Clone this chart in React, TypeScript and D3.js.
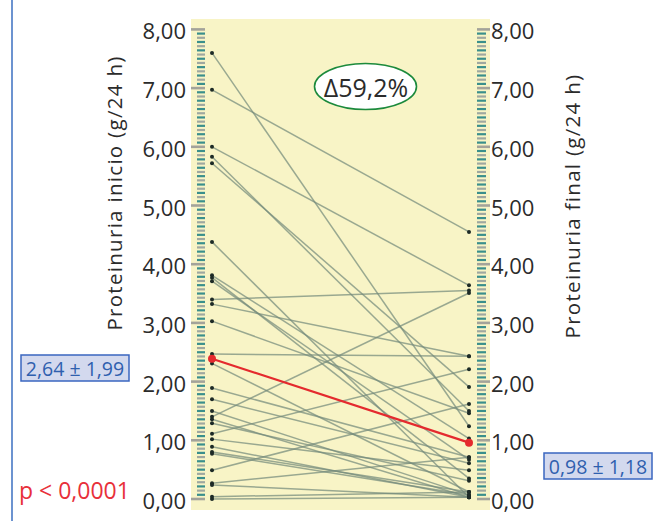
import * as d3 from "d3";

// baseline / final proteinuria per patient (g/24 h)
const inicio = [7.6, 6.97, 6.0, 5.83, 5.72, 4.38, 3.81, 3.77, 3.71, 3.4, 3.32, 3.03, 2.47, 2.31, 1.89, 1.7, 1.5, 1.4, 1.36, 1.29, 1.11, 1.02, 0.89, 0.8, 0.77, 0.49, 0.27, 0.24, 0.04, 0.0];
const final = [1.24, 4.55, 3.64, 1.5, 1.91, 0.03, 1.03, 0.35, 0.67, 3.55, 2.43, 1.46, 2.43, 0.12, 0.71, 0.61, 0.07, 3.51, 0.03, 0.31, 2.21, 0.49, 0.03, 0.12, 0.07, 1.62, 0.71, 0.03, 0.12, 0.03];
const meanLine = [2.39, 0.96];
const tickLabels = ["0,00", "1,00", "2,00", "3,00", "4,00", "5,00", "6,00", "7,00", "8,00"];
const leftStat = "2,64 ± 1,99";
const rightStat = "0,98 ± 1,18";
const pText = "p < 0,0001";
const delta = "Δ59,2%";

const W = 653;
const H = 521;
const font = "'Open Sans', 'Noto Sans', sans-serif";

export default function App() {
  const y = d3.scaleLinear().domain([0, 8]).range([499, 29.4]);
  const xl = 212;
  const xr = 469;
  const minor = d3.range(0, 8.0001, 1 / 14);
  const majors = tickLabels.map((_, i) => i);

  const tickMarks = (side: "l" | "r") =>
    minor.map((v, i) => {
      const isMajor = Math.abs(v - Math.round(v)) < 1e-6;
      const x0 = side === "l" ? (isMajor ? 191 : 197) : 477;
      const x1 = side === "l" ? 205 : isMajor ? 490 : 486;
      return (
        <line
          key={side + i}
          x1={x0}
          x2={x1}
          y1={y(v)}
          y2={y(v)}
          stroke={isMajor ? "#a3a39a" : i % 2 ? "#3a8f8c" : "#9fa8a0"}
          strokeWidth={isMajor ? 2.6 : 2.2}
        />
      );
    });

  return (
    <svg width={W} height={H} style={{ position: "absolute", left: 0, top: 0 }} fontFamily={font}>
      <rect width={W} height={H} fill="#fff" />
      <line x1={12} x2={12} y1={0} y2={H} stroke="#3b6fc0" strokeWidth={1.5} />
      <rect x={191} y={19} width={299} height={491} fill="#f8f4c6" />

      {tickMarks("l")}
      {tickMarks("r")}

      {majors.map((v) => (
        <g key={"lab" + v} fontSize={22} fill="#2b2b2b">
          <text x={186} y={y(v) + 1} textAnchor="end" dominantBaseline="central">
            {tickLabels[v]}
          </text>
          <text x={491} y={y(v) + 1} textAnchor="start" dominantBaseline="central">
            {tickLabels[v]}
          </text>
        </g>
      ))}

      <text transform={`translate(122,193) rotate(-90)`} textAnchor="middle" fontSize={20.5} letterSpacing={1.3} fill="#2b2b2b">
        Proteinuria inicio (g/24 h)
      </text>
      <text transform={`translate(580,206) rotate(-90)`} textAnchor="middle" fontSize={20.5} letterSpacing={1.3} fill="#2b2b2b">
        Proteinuria final (g/24 h)
      </text>

      {inicio.map((v, i) => (
        <line key={"p" + i} x1={xl} x2={xr} y1={y(v)} y2={y(final[i])} stroke="#758b7c" strokeOpacity={0.72} strokeWidth={1.5} />
      ))}
      {inicio.map((v, i) => (
        <g key={"d" + i} fill="#1d2a26">
          <circle cx={xl} cy={y(v)} r={2} />
          <circle cx={xr} cy={y(final[i])} r={2} />
        </g>
      ))}

      <line x1={xl} x2={xr} y1={y(meanLine[0])} y2={y(meanLine[1])} stroke="#e42a2e" strokeWidth={2.2} />
      <circle cx={xl} cy={y(meanLine[0])} r={4} fill="#e42a2e" />
      <circle cx={xr} cy={y(meanLine[1])} r={4} fill="#e42a2e" />

      <ellipse cx={365.5} cy={86.5} rx={51} ry={23} fill="#fff" stroke="#1c8a3c" strokeWidth={1.6} />
      <text x={366} y={87} textAnchor="middle" dominantBaseline="central" fontSize={25} fill="#2b2b2b">
        {delta}
      </text>

      <rect x={21} y={355} width={108} height={26} fill="#d3d9ee" stroke="#3a66c0" strokeWidth={1.5} />
      <text x={75} y={368.5} textAnchor="middle" dominantBaseline="central" fontSize={19.5} fill="#2f5fae">
        {leftStat}
      </text>
      <rect x={544} y={453} width={108} height={26} fill="#d3d9ee" stroke="#3a66c0" strokeWidth={1.5} />
      <text x={598} y={466.5} textAnchor="middle" dominantBaseline="central" fontSize={19.5} fill="#2f5fae">
        {rightStat}
      </text>

      <text x={19} y={499} fontSize={23} fill="#e8303a">
        {pText}
      </text>
    </svg>
  );
}
